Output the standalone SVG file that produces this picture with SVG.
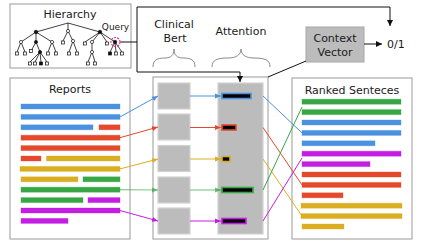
<svg xmlns="http://www.w3.org/2000/svg" width="425" height="250" viewBox="0 0 425 250">
<style>
text{font-family:"DejaVu Sans","Liberation Sans",sans-serif;fill:#1a1a1a}
.frame{fill:#fff;stroke:#aaa;stroke-width:1.2}
.gbox{fill:#bcbcbc;stroke:#d2d2d2;stroke-width:1.2}
.t{stroke:#111;stroke-width:0.8;fill:none}
.on{fill:#fff;stroke:#111;stroke-width:0.7}
.fn{fill:#111;stroke:#111;stroke-width:0.7}
.brace{fill:none;stroke:#8a8a8a;stroke-width:1}
.b{fill:#4a92df;stroke:#4a92df;stroke-opacity:.35}
.r{fill:#e4492b;stroke:#e4492b;stroke-opacity:.35}
.y{fill:#dbae22;stroke:#dbae22;stroke-opacity:.35}
.g{fill:#37a744;stroke:#37a744;stroke-opacity:.35}
.p{fill:#c41ee2;stroke:#c41ee2;stroke-opacity:.35}
.ab{fill:#000;stroke-width:1.6}
.cb{stroke:#4a92df;fill:none;stroke-width:1}
.cr{stroke:#e4492b;fill:none;stroke-width:1}
.cy{stroke:#dbae22;fill:none;stroke-width:1}
.cg{stroke:#37a744;fill:none;stroke-width:1}
.cgl{stroke:#37a744;stroke-opacity:.6;fill:none;stroke-width:1.2}
.cp{stroke:#c41ee2;fill:none;stroke-width:1}
.k{stroke:#111;fill:none;stroke-width:1}
</style>
<defs>
<marker id="mb" markerUnits="userSpaceOnUse" markerWidth="6" markerHeight="6" refX="6" refY="3" orient="auto"><path d="M0,0.5 L6,3 L0,5.5 z" fill="#4a92df"/></marker>
<marker id="mr" markerUnits="userSpaceOnUse" markerWidth="6" markerHeight="6" refX="6" refY="3" orient="auto"><path d="M0,0.5 L6,3 L0,5.5 z" fill="#e4492b"/></marker>
<marker id="my" markerUnits="userSpaceOnUse" markerWidth="6" markerHeight="6" refX="6" refY="3" orient="auto"><path d="M0,0.5 L6,3 L0,5.5 z" fill="#dbae22"/></marker>
<marker id="mg" markerUnits="userSpaceOnUse" markerWidth="6" markerHeight="6" refX="6" refY="3" orient="auto"><path d="M0,0.5 L6,3 L0,5.5 z" fill="#37a744" fill-opacity=".7"/></marker>
<marker id="mp" markerUnits="userSpaceOnUse" markerWidth="6" markerHeight="6" refX="6" refY="3" orient="auto"><path d="M0,0.5 L6,3 L0,5.5 z" fill="#c41ee2"/></marker>
<marker id="mk" markerUnits="userSpaceOnUse" markerWidth="7" markerHeight="7" refX="6" refY="3.5" orient="auto"><path d="M0,0.5 L6,3.5 L0,6.5 z" fill="#111"/></marker>
</defs>

<g id="hierarchy">
<rect class="frame" x="10" y="4" width="121" height="64"/>
<text x="70" y="17.5" font-size="11" text-anchor="middle">Hierarchy</text>
<text x="115.5" y="30" font-size="9" text-anchor="middle">Query</text>
<path class="t" d="M68,23 L36,32 M68,23 L68,31 M68,23 L100,32
M36,32 L21,42 M36,32 L36,42 M36,32 L52,42
M21,42 L17,52 M21,42 L25,52 M52,42 L48,52 M52,42 L56,52
M36,42 L31,51 M36,42 L40,52 M40,52 L30,62 M40,52 L35,62 M40,52 L41,62 M40,52 L47,62
M68,31 L63,41 M68,31 L73,41 M73,41 L69,52 M73,41 L77,52
M100,32 L85,42 M100,32 L92,42 M100,32 L107,42 M100,32 L115,42
M92,42 L92,52 M92,52 L88,62 M92,52 L95,62
M115,42 L110,52 M115,42 L116,52 M115,42 L122,52"/>
<circle class="fn" cx="36" cy="32" r="1.8"/>
<circle class="fn" cx="100" cy="32" r="1.8"/>
<circle class="on" cx="68" cy="31" r="1.6"/>
<circle class="on" cx="21" cy="42" r="1.6"/>
<circle class="fn" cx="36" cy="42" r="1.6"/>
<circle class="on" cx="52" cy="42" r="1.6"/>
<circle class="fn" cx="40" cy="52" r="1.6"/>
<circle class="on" cx="73" cy="41" r="1.6"/>
<circle class="on" cx="92" cy="42" r="1.6"/>
<circle class="on" cx="92" cy="52" r="1.6"/>
<circle class="fn" cx="115" cy="42" r="1.8"/>
<circle cx="115.5" cy="42" r="4.5" fill="none" stroke="#e8307e" stroke-width="1.2" stroke-dasharray="2,1.2"/>
<g class="on">
<rect x="15.5" y="52" width="3" height="3"/><rect x="23.5" y="52" width="3" height="3"/>
<rect x="46.5" y="52" width="3" height="3"/><rect x="54.5" y="52" width="3" height="3"/>
<rect x="29.5" y="49.5" width="3" height="3"/>
<rect x="28.5" y="62" width="3" height="3"/><rect x="33.5" y="62" width="3" height="3"/><rect x="45.5" y="62" width="3" height="3"/>
<rect x="61.5" y="41" width="3" height="3"/>
<rect x="67.5" y="52" width="3" height="3"/><rect x="75.5" y="52" width="3" height="3"/>
<rect x="83.5" y="42" width="3" height="3"/><rect x="105.5" y="42" width="3" height="3"/>
<rect x="86.5" y="62" width="3" height="3"/><rect x="93.5" y="62" width="3" height="3"/>
<rect x="114.5" y="52" width="3" height="3"/><rect x="120.5" y="52" width="3" height="3"/>
</g>
<rect class="fn" x="39.5" y="62" width="3" height="3"/>
<rect class="fn" x="108.5" y="52" width="3" height="3"/>
</g>

<g id="labels">
<text x="174" y="28" font-size="11" text-anchor="middle">Clinical</text>
<text x="175" y="42" font-size="11" text-anchor="middle">Bert</text>
<text x="241" y="35" font-size="11" text-anchor="middle">Attention</text>
<path class="brace" d="M153,67 C153,60 157,58 165,58 C171,58 174,55 174,49 C174,55 177,58 183,58 C191,58 195,60 195,67"/>
<path class="brace" d="M212,67 C212,60 217,58 228,58 C236,58 241,55 241,49 C241,55 246,58 254,58 C265,58 270,60 270,67"/>
</g>

<g id="context-vector">
<rect x="306" y="27" width="58" height="35" fill="#bcbcbc" stroke="#a8a8a8" stroke-width="1"/>
<text x="335" y="41.5" font-size="11" text-anchor="middle">Context</text>
<text x="335" y="56" font-size="11" text-anchor="middle">Vector</text>
</g>
<g id="output"><text x="387" y="48" font-size="11">0/1</text></g>

<g id="reports">
<rect class="frame" x="10" y="78" width="120" height="161"/>
<text x="70" y="92.5" font-size="11" text-anchor="middle">Reports</text>
<rect class="b" x="21" y="104" width="99" height="5"/>
<rect class="b" x="21" y="114.4" width="99" height="5"/>
<rect class="b" x="21" y="124.8" width="72" height="5"/><rect class="r" x="99" y="124.8" width="21" height="5"/>
<rect class="r" x="21" y="135.2" width="99" height="5"/>
<rect class="r" x="21" y="145.6" width="99" height="5"/>
<rect class="r" x="21" y="156" width="20" height="5"/><rect class="y" x="46.5" y="156" width="73.5" height="5"/>
<rect class="y" x="20" y="166.4" width="100" height="5"/>
<rect class="y" x="21" y="176.8" width="57" height="5"/><rect class="g" x="83" y="176.8" width="37" height="5"/>
<rect class="g" x="21" y="187.2" width="99" height="5"/>
<rect class="g" x="21" y="197.6" width="62" height="5"/><rect class="p" x="88" y="197.6" width="32" height="5"/>
<rect class="p" x="21" y="208" width="99" height="5"/>
<rect class="p" x="21" y="218.4" width="47" height="5"/>
</g>

<g id="model">
<rect class="frame" x="153" y="77" width="115" height="162"/>
</g>
<g id="bert">
<rect class="gbox" x="158" y="83" width="32" height="26"/>
<rect class="gbox" x="158" y="114" width="32" height="26"/>
<rect class="gbox" x="158" y="145.5" width="32" height="26"/>
<rect class="gbox" x="158" y="177" width="32" height="26"/>
<rect class="gbox" x="158" y="208" width="32" height="26"/>
</g>
<g id="attention">
<rect class="gbox" x="218" y="83" width="45" height="151"/>
<rect class="ab" stroke="#4a92df" x="222" y="93.5" width="29" height="5"/>
<rect class="ab" stroke="#e4492b" x="222" y="125" width="14" height="5"/>
<rect class="ab" stroke="#dbae22" x="222" y="156.5" width="8" height="5"/>
<rect class="ab" stroke="#37a744" x="222" y="187.5" width="31" height="5"/>
<rect class="ab" stroke="#c41ee2" x="222" y="218.5" width="24" height="5"/>
</g>

<g id="ranked">
<rect class="frame" x="292" y="78" width="120" height="161"/>
<text x="352" y="93.5" font-size="11" text-anchor="middle">Ranked Senteces</text>
<rect class="g" x="302" y="99.2" width="99" height="5"/>
<rect class="g" x="302" y="109.6" width="99" height="5"/>
<rect class="b" x="302" y="120" width="99" height="5"/>
<rect class="b" x="302" y="130.4" width="99" height="5"/>
<rect class="b" x="302" y="140.8" width="73" height="5"/>
<rect class="p" x="302" y="151.2" width="99" height="5"/>
<rect class="p" x="302" y="161.6" width="68" height="5"/>
<rect class="r" x="302" y="172" width="99" height="5"/>
<rect class="r" x="302" y="182.4" width="99" height="5"/>
<rect class="r" x="302" y="192.8" width="41" height="5"/>
<rect class="y" x="301" y="203.2" width="101" height="5"/>
<rect class="y" x="301" y="213.6" width="101" height="5"/>
<rect class="y" x="302" y="224" width="42" height="5"/>
</g>

<g id="connectors">
<path class="k" d="M120.5,42 H137 V7 H390 V26" marker-end="url(#mk)"/>
<path class="k" d="M137,42 V72 H240 V82" marker-end="url(#mk)"/>
<path class="k" d="M364,44 H382" marker-end="url(#mk)"/>
<path class="k" d="M268,77 L306,61"/>
<path class="cb" d="M120,116.9 L158,96" marker-end="url(#mb)"/>
<path class="cr" d="M120,137.7 L158,127" marker-end="url(#mr)"/>
<path class="cy" d="M120,168.9 L158,159" marker-end="url(#my)"/>
<path class="cgl" d="M120,189.7 L158,190" marker-end="url(#mg)"/>
<path class="cp" d="M120,210.5 L158,221" marker-end="url(#mp)"/>
<path class="cb" d="M190,96 H221" marker-end="url(#mb)"/>
<path class="cr" d="M190,127.5 H221" marker-end="url(#mr)"/>
<path class="cy" d="M190,159 H221" marker-end="url(#my)"/>
<path class="cgl" d="M190,190 H221" marker-end="url(#mg)"/>
<path class="cp" d="M190,221 H221" marker-end="url(#mp)"/>
<path class="cb" d="M263,96 L302,132.9"/>
<path class="cr" d="M263,127.5 L302,184.9"/>
<path class="cy" d="M263,159 L302,216.1"/>
<path class="cg" d="M263,190 L302,107"/>
<path class="cp" d="M263,221 L302,158"/>
</g>
</svg>
